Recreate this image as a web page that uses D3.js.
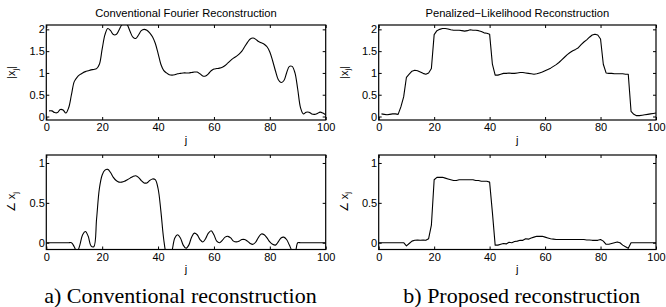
<!DOCTYPE html>
<html>
<head>
<meta charset="utf-8">
<script src="https://cdn.jsdelivr.net/npm/d3@7"></script>
<style>
  body { margin: 0; background: #fff; }
</style>
</head>
<body>
<div id="chart"></div>
<script>
// indices j (magnitude starts at 1, phase plotted from 0)
const jMag = d3.range(1, 101);
const jAng = d3.range(0, 101);

// |x_j|, conventional Fourier reconstruction
const magConv = [
  0.13, 0.13, 0.09, 0.09, 0.16, 0.15, 0.08, 0.2, 0.5, 0.8,
  0.9, 0.96, 1.0, 1.03, 1.05, 1.07, 1.08, 1.1, 1.2, 1.55,
  1.88, 2.02, 1.97, 1.88, 1.88, 1.98, 2.1, 2.15, 2.1, 1.95,
  1.82, 1.79, 1.87, 1.97, 2.0, 1.98, 1.92, 1.83, 1.68, 1.45,
  1.2, 1.06, 1.0, 0.96, 0.95, 0.96, 0.98, 0.99, 1.0, 1.0,
  1.0, 1.01, 1.02, 1.02, 0.98, 0.93, 0.93, 0.98, 1.05, 1.09,
  1.1, 1.11, 1.13, 1.17, 1.23, 1.29, 1.34, 1.38, 1.43, 1.5,
  1.6, 1.7, 1.78, 1.8, 1.77, 1.72, 1.69, 1.66, 1.6, 1.48,
  1.28, 1.05, 0.85, 0.78, 0.82, 1.0, 1.15, 1.15, 1.0, 0.62,
  0.2, 0.06, 0.1, 0.1, 0.06, 0.05, 0.07, 0.1, 0.08, 0.04
];

// |x_j|, penalized-likelihood reconstruction
const magPen = [
  0.06, 0.05, 0.04, 0.05, 0.06, 0.06, 0.05, 0.22, 0.45, 0.9,
  0.97, 1.04, 1.06, 1.05, 1.02, 0.99, 0.97, 1.0, 1.1, 1.88,
  1.97, 2.0, 2.02, 2.02, 2.01, 1.99, 1.98, 1.98, 1.98, 1.97,
  1.96, 1.97, 1.99, 1.98, 1.98, 1.97, 1.95, 1.92, 1.91, 1.89,
  1.2, 0.95, 0.95, 0.97, 0.99, 0.99, 1.0, 0.99, 0.99, 1.0,
  1.01, 1.01, 1.0, 0.99, 0.98, 0.97, 0.98, 1.0, 1.02, 1.05,
  1.08, 1.11, 1.15, 1.19, 1.24, 1.3, 1.36, 1.42, 1.47, 1.51,
  1.54, 1.58, 1.65, 1.71, 1.76, 1.82, 1.87, 1.89, 1.87, 1.78,
  1.2, 1.0, 0.99, 0.99, 0.98, 0.98, 0.98, 0.98, 0.97, 0.97,
  0.12, 0.05, 0.02, 0.02, 0.03, 0.04, 0.05, 0.06, 0.07, 0.08
];

// angle x_j, conventional (j = 0..100)
const angConv = [
  0,
  0, 0, 0, 0, 0, 0, 0, 0, 0, -0.05,
  -0.12, -0.03, 0.1, 0.14, 0.08, -0.04, -0.05, 0.3, 0.68, 0.85,
  0.91, 0.92, 0.88, 0.82, 0.78, 0.76, 0.76, 0.77, 0.79, 0.81,
  0.83, 0.84, 0.82, 0.78, 0.75, 0.75, 0.78, 0.8, 0.79, 0.68,
  0.4, 0.05, -0.15, -0.2, -0.1, 0.06, 0.1, 0.06, -0.03, -0.07,
  -0.03, 0.07, 0.12, 0.1, 0.04, 0.01, 0.05, 0.12, 0.15, 0.1,
  0.02, 0.0, 0.03, 0.07, 0.08, 0.06, 0.02, 0.01, 0.02, 0.04,
  0.04, 0.02, -0.01, -0.02, 0.01, 0.07, 0.11, 0.1, 0.06, 0.01,
  -0.02, -0.03, 0.01, 0.06, 0.07, 0.04, -0.03, -0.1, -0.12, 0,
  0, 0, 0, 0, 0, 0, 0, 0, 0, 0
];

// angle x_j, penalized-likelihood (j = 0..100)
const angPen = [
  0,
  0, 0, 0, 0, 0, 0, 0, 0, 0, -0.04,
  -0.01, 0.02, 0.03, 0.035, 0.03, 0.035, 0.03, 0.05, 0.22, 0.79,
  0.82, 0.82, 0.82, 0.81, 0.8, 0.79, 0.78, 0.78, 0.79, 0.79,
  0.79, 0.79, 0.79, 0.79, 0.78, 0.78, 0.77, 0.77, 0.77, 0.76,
  0.38, -0.03, -0.03, -0.02, -0.01, -0.015, 0.005, 0.0, 0.015, 0.02,
  0.03, 0.03, 0.05, 0.045, 0.06, 0.07, 0.08, 0.08, 0.08, 0.07,
  0.06, 0.05, 0.045, 0.04, 0.04, 0.04, 0.04, 0.04, 0.04, 0.04,
  0.04, 0.04, 0.04, 0.04, 0.035, 0.035, 0.03, 0.03, 0.03, 0.04,
  0.02, -0.02, -0.02, -0.01, 0.0, 0.01, 0.0, -0.03, -0.05, -0.07,
  0, 0, 0, 0, 0, 0, 0, 0, 0, 0
];

// tick labels
const xTicks = [0, 20, 40, 60, 80, 100];
const magTicks = [0, 0.5, 1, 1.5, 2];
const angTicks = [0, 0.5, 1];

const titles = ["Conventional Fourier Reconstruction", "Penalized\u2212Likelihood Reconstruction"];
const captions = ["a) Conventional reconstruction", "b) Proposed reconstruction"];

const width = 666, height = 307;
const sans = "'Liberation Sans', Arial, Helvetica, sans-serif";
const serif = "'Liberation Serif', 'Times New Roman', Times, serif";

const svg = d3.select("#chart").append("svg")
    .attr("width", width)
    .attr("height", height)
    .style("font-family", sans);

// panel boxes
const cols = [{ x0: 46.3, x1: 325.7 }, { x0: 378.7, x1: 656 }];
const rows = [
  { y0: 25, y1: 120, domain: [-0.08, 2.1], ticks: magTicks, label: "mag" },
  { y0: 155, y1: 249.5, domain: [-0.085, 1.1], ticks: angTicks, label: "ang" }
];

const panels = [
  { c: 0, r: 0, xs: jMag, ys: magConv, smooth: true },
  { c: 1, r: 0, xs: jMag, ys: magPen, smooth: false },
  { c: 0, r: 1, xs: jAng, ys: angConv, smooth: true },
  { c: 1, r: 1, xs: jAng, ys: angPen, smooth: false }
];

panels.forEach((p, i) => {
  const col = cols[p.c], row = rows[p.r];
  const x = d3.scaleLinear().domain([0, 100]).range([col.x0, col.x1]);
  const y = d3.scaleLinear().domain(row.domain).range([row.y1, row.y0]);
  const g = svg.append("g");

  g.append("clipPath").attr("id", "clip" + i)
    .append("rect")
    .attr("x", col.x0).attr("y", row.y0)
    .attr("width", col.x1 - col.x0).attr("height", row.y1 - row.y0);

  const line = d3.line()
      .x((d, k) => x(p.xs[k]))
      .y(d => y(d))
      .curve(p.smooth ? d3.curveCatmullRom.alpha(0.5) : d3.curveLinear);

  g.append("path")
      .datum(p.ys)
      .attr("clip-path", `url(#clip${i})`)
      .attr("d", line)
      .attr("fill", "none")
      .attr("stroke", "#000")
      .attr("stroke-width", 1.1)
      .attr("stroke-linejoin", "round");

  // axes, ticks pointing inward like matlab
  const ax = (a) => a.selectAll(".domain").remove();
  g.append("g")
      .attr("transform", `translate(0,${row.y1})`)
      .call(d3.axisBottom(x).tickValues(xTicks).tickSizeInner(-3).tickSizeOuter(0).tickPadding(3.5))
      .call(ax);
  g.append("g")
      .attr("transform", `translate(0,${row.y0})`)
      .call(d3.axisTop(x).tickValues(xTicks).tickSizeInner(-3).tickSizeOuter(0).tickFormat(""))
      .call(ax);
  g.append("g")
      .attr("transform", `translate(${col.x0},0)`)
      .call(d3.axisLeft(y).tickValues(row.ticks).tickSizeInner(-3).tickSizeOuter(0).tickPadding(1.5).tickFormat(d => String(d)))
      .call(ax);
  g.append("g")
      .attr("transform", `translate(${col.x1},0)`)
      .call(d3.axisRight(y).tickValues(row.ticks).tickSizeInner(-3).tickSizeOuter(0).tickFormat(""))
      .call(ax);

  g.selectAll("g").attr("font-family", null).attr("font-size", null);
  g.selectAll(".tick text").style("font-size", "11px");
  g.selectAll(".tick line").attr("stroke", "#000").attr("stroke-width", 1);

  g.append("rect")
      .attr("x", col.x0).attr("y", row.y0)
      .attr("width", col.x1 - col.x0).attr("height", row.y1 - row.y0)
      .attr("fill", "none").attr("stroke", "#000").attr("stroke-width", 1.2);

  // x label
  g.append("text")
      .attr("x", (col.x0 + col.x1) / 2)
      .attr("y", row.y1 + 23.5)
      .attr("text-anchor", "middle")
      .style("font-size", "11px")
      .text("j");

  // y label
  const yl = g.append("text")
      .attr("transform", `translate(${col.x0 - 31},${(row.y0 + row.y1) / 2}) rotate(-90)`)
      .attr("text-anchor", "middle")
      .style("font-size", "11px");
  if (row.label === "mag") {
    yl.append("tspan").text("|x");
    yl.append("tspan").style("font-size", "7.5px").attr("dy", 2.5).text("j");
    yl.append("tspan").attr("dy", -2.5).text("|");
  } else {
    yl.append("tspan").text("\u2220 x");
    yl.append("tspan").style("font-size", "7.5px").attr("dy", 2.5).text("j");
  }

  if (p.r === 0) {
    g.append("text")
        .attr("x", (col.x0 + col.x1) / 2)
        .attr("y", 17)
        .attr("text-anchor", "middle")
        .style("font-size", "11.2px")
        .text(titles[p.c]);
  } else {
    g.append("text")
        .attr("x", (col.x0 + col.x1) / 2 - (p.c === 0 ? 5.5 : -4.5))
        .attr("y", 303)
        .attr("text-anchor", "middle")
        .style("font-family", serif)
        .style("font-size", "22px")
        .text(captions[p.c]);
  }
});
</script>
</body>
</html>
